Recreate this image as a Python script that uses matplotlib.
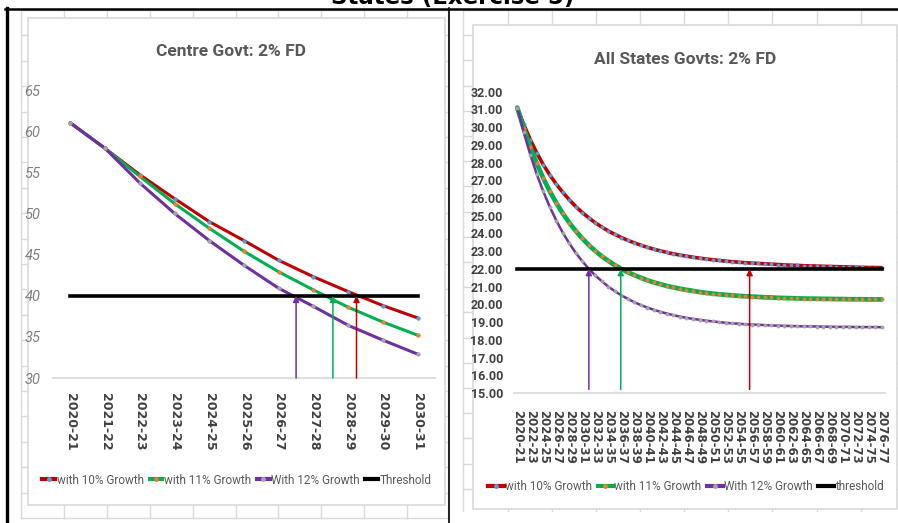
import matplotlib
matplotlib.use("Agg")
import matplotlib.pyplot as plt
from matplotlib.lines import Line2D
from matplotlib.patches import Rectangle

plt.rcParams['font.family'] = ['Roboto', 'DejaVu Sans']

W, H = 898, 523

# Centre government debt (% of GDP), 2% fiscal deficit
centre_years = ["2020-21", "2021-22", "2022-23", "2023-24", "2024-25", "2025-26",
                "2026-27", "2027-28", "2028-29", "2029-30", "2030-31"]
centre_10 = [61.0, 57.9, 54.7, 51.8, 49.0, 46.7, 44.3, 42.3, 40.5, 38.8, 37.3]
centre_11 = [61.0, 57.9, 54.5, 51.2, 48.2, 45.4, 42.9, 40.7, 38.6, 36.8, 35.2]
centre_12 = [61.0, 57.9, 53.7, 50.0, 46.7, 43.7, 40.9, 38.7, 36.4, 34.6, 32.9]
centre_threshold = 40
# arrows marking where each path reaches the threshold (category position)
centre_arrows = [8.24, 7.56, 6.5]

# All state governments debt (% of GDP), 2% fiscal deficit
states_years = [f"{y}-{(y + 1) % 100:02d}" for y in range(2020, 2077)]
states_10 = [31.10, 30.15, 29.30, 28.55, 27.88, 27.30, 26.78, 26.32, 25.90, 25.52,
             25.18, 24.88, 24.60, 24.36, 24.14, 23.95, 23.77, 23.61, 23.47, 23.34,
             23.22, 23.11, 23.02, 22.93, 22.85, 22.78, 22.72, 22.66, 22.61, 22.56,
             22.52, 22.48, 22.44, 22.41, 22.38, 22.35, 22.33, 22.31, 22.29, 22.27,
             22.25, 22.23, 22.21, 22.20, 22.18, 22.17, 22.16, 22.15, 22.14, 22.13,
             22.12, 22.11, 22.10, 22.09, 22.08, 22.08, 22.07]
states_11 = [31.10, 29.93, 28.89, 27.95, 27.12, 26.38, 25.72, 25.13, 24.60, 24.14,
             23.72, 23.34, 23.01, 22.71, 22.45, 22.21, 22.00, 21.81, 21.65, 21.50,
             21.36, 21.24, 21.14, 21.04, 20.96, 20.88, 20.82, 20.76, 20.70, 20.65,
             20.61, 20.57, 20.54, 20.51, 20.48, 20.46, 20.44, 20.42, 20.40, 20.39,
             20.37, 20.36, 20.35, 20.34, 20.33, 20.32, 20.32, 20.31, 20.31, 20.30,
             20.30, 20.29, 20.29, 20.29, 20.28, 20.28, 20.28]
states_12 = [31.10, 29.70, 28.45, 27.34, 26.37, 25.50, 24.73, 24.04, 23.44, 22.90,
             22.43, 22.00, 21.63, 21.30, 21.00, 20.74, 20.51, 20.31, 20.12, 19.96,
             19.82, 19.69, 19.58, 19.48, 19.39, 19.31, 19.24, 19.18, 19.13, 19.08,
             19.04, 19.00, 18.96, 18.93, 18.91, 18.88, 18.86, 18.85, 18.83, 18.81,
             18.80, 18.79, 18.78, 18.77, 18.76, 18.76, 18.75, 18.74, 18.74, 18.73,
             18.73, 18.73, 18.72, 18.72, 18.72, 18.72, 18.71]
states_threshold = 22
states_arrows = [35.7, 15.9, 11.0]

line_colors = ["#C00000", "#00B050", "#7030A0"]
marker_colors = ["#5B9BD5", "#ED7D31", "#A5A5A5"]
arrow_colors = ["#C00000", "#00B050", "#7030A0"]

fig = plt.figure(figsize=(W / 100, H / 100), dpi=100)

# page background: spreadsheet cell grid, table borders
bg = fig.add_axes([0, 0, 1, 1], zorder=0)
bg.set_xlim(0, W)
bg.set_ylim(H, 0)
bg.axis("off")
grid_c = "#d9d9d9"
for x in [21, 64, 107, 150, 193, 236, 278, 321, 364, 407, 448]:
    bg.plot([x, x], [10, 518], color=grid_c, lw=1, zorder=0)
for k in range(21):
    y = 10 + 25.4 * k
    bg.plot([21, 448], [y, y], color=grid_c, lw=1, zorder=0)
for x in [463, 508, 552, 596, 640, 684, 728, 772, 817, 861]:
    bg.plot([x, x], [10, 511], color=grid_c, lw=1, zorder=0)
for k in range(20):
    y = min(10 + 25.2 * k, 511)
    bg.plot([463, 898], [y, y], color=grid_c, lw=1, zorder=0)
bg.add_patch(Rectangle((28, 18), 417, 487, fc="white", ec=grid_c, lw=1.2, zorder=1))
bg.add_patch(Rectangle((473, 25), 424, 484, fc="white", ec=grid_c, lw=1.2, zorder=1))
bg.plot([5, 898], [8.5, 8.5], color="black", lw=1.8, zorder=2)
bg.plot([6.5, 6.5], [8, 523], color="black", lw=2.4, zorder=2)
bg.plot([449, 449], [8, 523], color="black", lw=1.2, zorder=2)

fig.text(453 / W, 1 - 4 / H, "States (Exercise 5)", ha="center", va="baseline",
         fontsize=16.5, weight="bold", family="DejaVu Sans")
fig.text(231 / W, 1 - 52 / H, "Centre Govt: 2% FD", ha="center", va="center",
         fontsize=12.5, color="#595959", weight="bold")
fig.text(685 / W, 1 - 60 / H, "All States Govts: 2% FD", ha="center", va="center",
         fontsize=12.5, color="#595959", weight="bold")


def draw_panel(ax, years, series, thr, arrows, ybot, lw_list, ms):
    idx = list(range(len(years)))
    for vals, lc, mc, lw in zip(series, line_colors, marker_colors, lw_list):
        ax.plot(idx, vals, color=lc, lw=lw, marker="o", ms=ms, mfc=mc, mec=mc,
                mew=0.6, solid_capstyle="round", zorder=3)
    ax.plot([idx[0], idx[-1]], [thr, thr], color="black", lw=2.6, zorder=4)
    for xa, c in zip(arrows, arrow_colors):
        ax.annotate("", xy=(xa, thr), xytext=(xa, ybot),
                    arrowprops=dict(arrowstyle="-|>", color=c, lw=1.1,
                                    mutation_scale=9, shrinkA=0, shrinkB=0),
                    zorder=5, annotation_clip=False)
    ax.set_xlim(-0.5, len(years) - 0.5)
    ax.patch.set_alpha(0)
    for s in ["left", "right", "top"]:
        ax.spines[s].set_visible(False)
    ax.spines["bottom"].set_color(grid_c)
    ax.spines["bottom"].set_linewidth(1.2)
    ax.tick_params(length=0)


# left panel: centre government
axl = fig.add_axes([53 / W, 1 - 378 / H, 382 / W, 288 / H], zorder=2)
draw_panel(axl, centre_years, [centre_10, centre_11, centre_12], centre_threshold,
           centre_arrows, 30.0, [2.2, 2.2, 2.2], 2.5)
axl.set_ylim(30, 65)
axl.set_yticks(range(30, 70, 5))
axl.tick_params(axis="y", pad=9, labelsize=10.5, labelcolor="#7f7f7f")
for t in axl.get_yticklabels():
    t.set_fontstyle("italic")
axl.set_xticks(range(len(centre_years)))
axl.set_xticklabels(centre_years, rotation=-90, fontsize=9, weight="bold",
                    color="#404040", family="DejaVu Sans")
axl.tick_params(axis="x", pad=11)

# right panel: all state governments
axr = fig.add_axes([514 / W, 1 - 393 / H, 371 / W, 301.3 / H], zorder=2)
draw_panel(axr, states_years, [states_10, states_11, states_12], states_threshold,
           states_arrows, 15.2, [2.6, 3.4, 1.8], 2.2)
axr.set_ylim(15, 32)
axr.set_yticks(range(15, 33))
axr.set_yticklabels([f"{v:.2f}" for v in range(15, 33)])
axr.tick_params(axis="y", pad=8, labelsize=9, labelcolor="#404040")
for t in axr.get_yticklabels():
    t.set_fontweight("bold")
axr.set_xticks(range(0, len(states_years), 2))
axr.set_xticklabels(states_years[::2], rotation=-90, fontsize=8.5, weight="bold",
                    color="#404040", family="DejaVu Sans")
axr.tick_params(axis="x", pad=12)


def legend_handles():
    hs = [Line2D([], [], color=lc, lw=3, marker="o", ms=2.5, mfc=mc, mec=mc)
          for lc, mc in zip(line_colors, marker_colors)]
    hs.append(Line2D([], [], color="black", lw=3))
    return hs


fig.legend(legend_handles(), ["with 10% Growth", "with 11% Growth",
                              "With 12% Growth", "Threshold"],
           loc="center", bbox_to_anchor=(237 / W, 1 - 480 / H), ncol=4,
           frameon=False, fontsize=8.5, handlelength=1.1, handletextpad=0.1,
           columnspacing=0.5, labelcolor="#595959", numpoints=1)
fig.legend(legend_handles(), ["with 10% Growth", "with 11% Growth",
                              "With 12% Growth", "threshold"],
           loc="center", bbox_to_anchor=(686 / W, 1 - 487 / H), ncol=4,
           frameon=False, fontsize=8.5, handlelength=1.3, handletextpad=0.1,
           columnspacing=0.5, labelcolor="#595959", numpoints=1)

fig.savefig("out.png", dpi=100)
